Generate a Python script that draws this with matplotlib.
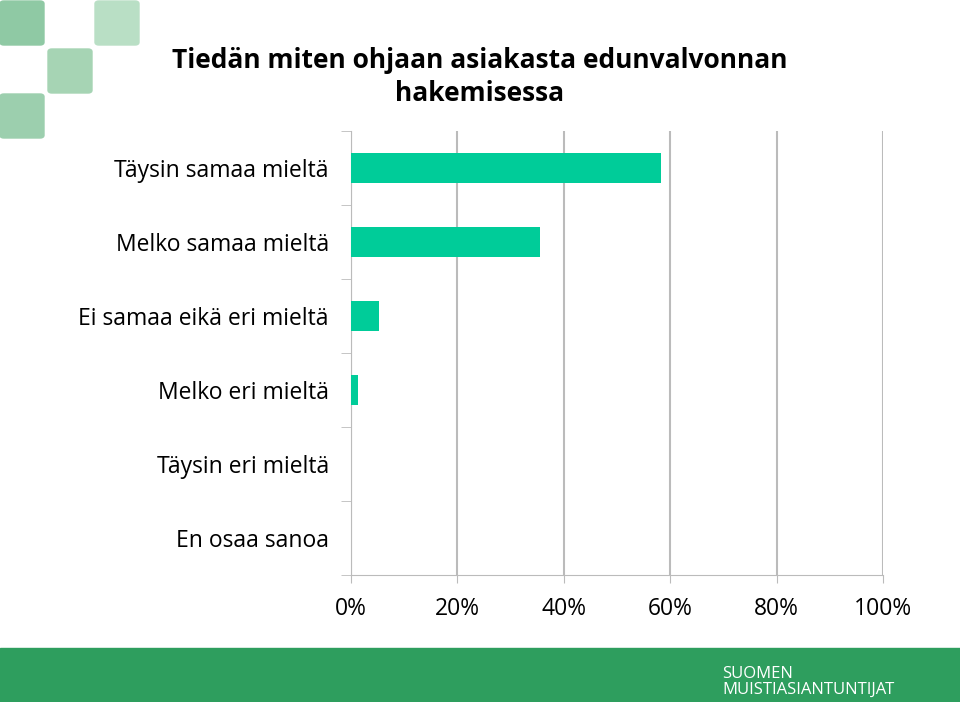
import matplotlib.pyplot as plt
from matplotlib.patches import Rectangle, FancyBboxPatch

categories = ["Täysin samaa mieltä", "Melko samaa mieltä", "Ei samaa eikä eri mieltä",
              "Melko eri mieltä", "Täysin eri mieltä", "En osaa sanoa"]
values = [58.3, 35.5, 5.3, 1.3, 0.0, 0.0]
xticks = [0, 20, 40, 60, 80, 100]

W, H = 960, 702
fig = plt.figure(figsize=(W / 100, H / 100), dpi=100)
plt.rcParams["font.family"] = "Open Sans"

# decorative squares (top-left)
for x0, y0, c in [(0, 0, "#8fc9a4"), (95, 0, "#b9dfc5"), (48, 48, "#a6d4b4"), (0, 93, "#9ccfae")]:
    fig.patches.append(FancyBboxPatch((x0 / W, 1 - (y0 + 45) / H), 44 / W, 44 / H,
                                      boxstyle="round,pad=0,rounding_size=0.004",
                                      transform=fig.transFigure, color=c, zorder=0))
# bottom band
fig.patches.append(Rectangle((0, 0), 1, 54 / H, transform=fig.transFigure, color="#2e9e5e", zorder=0))
fig.text(722 / W, 20 / H, "SUOMEN\nMUISTIASIANTUNTIJAT", color="white", fontsize=12,
         ha="left", va="center", linespacing=0.95)

ax = fig.add_axes([351 / W, 1 - 575 / H, 532 / W, 444 / H])
y = list(range(len(categories)))
ax.barh(y, values, height=0.4, color="#00cc99", zorder=3)
ax.set_ylim(len(categories) - 0.5, -0.5)
ax.set_xlim(0, 100)
ax.set_xticks(xticks)
ax.set_xticklabels([f"{v}%" for v in xticks], fontsize=16.5)
ax.set_yticks(y)
ax.set_yticklabels(categories, fontsize=16.5)
ax.tick_params(axis="y", length=0, pad=16)
ax.tick_params(axis="x", length=6, color="#bbbbbb", pad=10)
ax.set_yticks([i - 0.5 for i in range(len(categories) + 1)], minor=True)
ax.tick_params(axis="y", which="minor", length=7, color="#bbbbbb")
ax.grid(axis="x", color="#bbbbbb", linewidth=1.5, zorder=0)
for s in ["top", "right"]:
    ax.spines[s].set_visible(False)
for s in ["left", "bottom"]:
    ax.spines[s].set_color("#bbbbbb")

fig.text(480 / W, 1 - 77 / H, "Tiedän miten ohjaan asiakasta edunvalvonnan\nhakemisessa",
         ha="center", va="center", fontsize=19, fontweight="bold", linespacing=1.3)

fig.savefig("out.png", dpi=100)
